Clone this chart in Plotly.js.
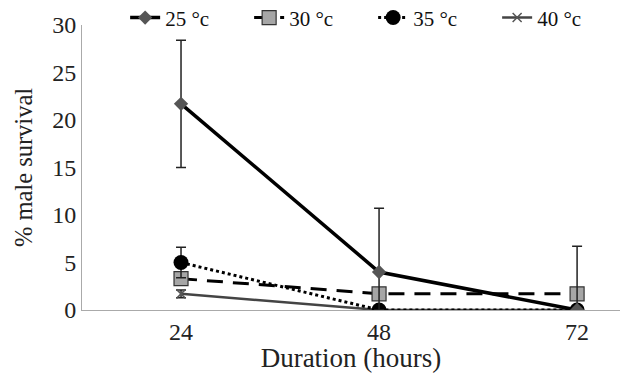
<!DOCTYPE html>
<html><head><meta charset="utf-8">
<script src="https://cdn.plot.ly/plotly-3.0.1.min.js"></script>
<style>html,body{margin:0;padding:0;background:#fff}</style>
</head><body><div id="chart" style="width:632px;height:373px"></div>
<script>
const durations = [24, 48, 72];
const seriesNames = ['25 °c', '30 °c', '35 °c', '40 °c'];
const t25 = [21.7, 4.0, 0];
const t30 = [3.3, 1.7, 1.7];
const t35 = [5.0, 0, 0];
const t40 = [1.7, 0, 0];
const err25 = [6.7, 6.7, 6.7];
const err30 = [0, 0, 0];
const err35 = [1.6, 0, 0];
const err40 = [0.4, 0, 0];
const yTicks = [0, 5, 10, 15, 20, 25, 30];

function eb(vals, errs, color) {
  return {type: 'data', array: errs, arrayminus: errs.map((e, i) => Math.min(e, vals[i])),
    visible: true, color: color, thickness: 1.5, width: 5};
}
const FAM = 'Liberation Serif';
const font = {family: FAM, color: '#222'};
const traces = [
  {x: durations, y: t40, name: seriesNames[3], mode: 'lines+markers', legendrank: 4,
   line: {color: '#444', width: 2.5}, marker: {symbol: 'x-thin-open', size: 9, color: '#555', line: {width: 1.5, color: '#555'}},
   error_y: eb(t40, err40, '#222')},
  {x: durations, y: t30, name: seriesNames[1], mode: 'lines+markers', legendrank: 2,
   line: {color: '#000', width: 3, dash: '16px,10px'}, marker: {symbol: 'square', size: 14, color: '#a6a6a6', line: {width: 1.2, color: '#333'}},
   error_y: eb(t30, err30, '#222')},
  {x: durations, y: t35, name: seriesNames[2], mode: 'lines+markers', legendrank: 3,
   line: {color: '#000', width: 3, dash: 'dot'}, marker: {symbol: 'circle', size: 15, color: '#000'},
   error_y: eb(t35, err35, '#222')},
  {x: durations, y: t25, name: seriesNames[0], mode: 'lines+markers', legendrank: 1,
   line: {color: '#000', width: 3.5}, marker: {symbol: 'diamond', size: 11, color: '#555'},
   error_y: eb(t25, err25, '#222')}
];
const layout = {
  width: 632, height: 373,
  margin: {l: 82, r: 12, t: 25, b: 63, autoexpand: false},
  paper_bgcolor: '#fff', plot_bgcolor: '#fff',
  font: font,
  showlegend: true,
  legend: {orientation: 'h', xref: 'container', yref: 'container', x: 0.198, y: 0.952,
    xanchor: 'left', yanchor: 'middle', bgcolor: 'rgba(0,0,0,0)',
    font: {family: FAM, size: 21, color: '#111'}, entrywidth: 79, entrywidthmode: 'pixels'},
  xaxis: {range: [12, 77.2], tickvals: durations, ticktext: durations.map(String),
    showgrid: false, zeroline: false, showline: true, linecolor: '#aaa', linewidth: 1,
    ticks: '', tickfont: {family: FAM, size: 24, color: '#222'},
    title: {text: 'Duration (hours)', font: {family: FAM, size: 27, color: '#222'}, standoff: 0}},
  yaxis: {range: [0, 30], tickvals: yTicks, showgrid: false, zeroline: false, showline: true,
    linecolor: '#aaa', linewidth: 1, ticks: '', tickfont: {family: FAM, size: 24, color: '#222'},
    title: {text: '% male survival', font: {family: FAM, size: 24.5, color: '#222'}, standoff: 12}}
};
Plotly.newPlot('chart', traces, layout, {displayModeBar: false, staticPlot: true});
</script></body></html>
